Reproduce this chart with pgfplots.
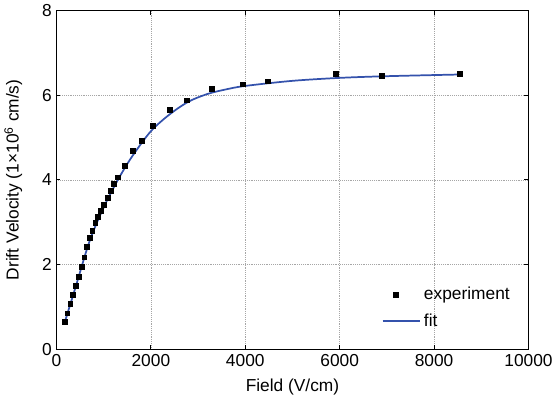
\documentclass[border=0pt]{standalone}
\usepackage{pgfplots}
\pgfplotsset{compat=1.18}
\usepackage{fontspec}
\setmainfont{Liberation Sans}
\definecolor{fitblue}{RGB}{52,82,172}
\pgfplotsset{
  mymarklegend/.style={legend image code/.code={\draw[##1] plot coordinates {(0.3cm,0cm)};}},
  mylinelegend/.style={legend image code/.code={\draw[##1] (-0.05cm,0cm) -- (0.95cm,0cm);}},
}
\begin{document}
\begin{tikzpicture}
\begin{axis}[
  scale only axis,
  width=354pt, height=254pt,
  xmin=0, xmax=10000, ymin=0, ymax=8,
  xtick={0,2000,4000,6000,8000,10000},
  ytick={0,2,4,6,8},
  /pgf/number format/assume math mode=true,
  /pgf/number format/1000 sep={},
  scaled x ticks=false,
  tick align=inside,
  tick pos=both,
  major tick length=3pt,
  grid=major,
  major grid style={gray!70, densely dotted, line width=0.5pt},
  axis line style={line width=0.8pt},
  tick style={black, line width=0.6pt},
  ticklabel style={font=\fontsize{13}{15}\selectfont},
  label style={font=\fontsize{13}{15}\selectfont},
  xlabel={Field (V/cm)},
  ylabel={Drift Velocity (1×10\textsuperscript{6} cm/s)},
  xlabel style={yshift=-3pt},
  ylabel style={yshift=8pt},
  legend style={draw=none, fill=none, at={(0.975,0.045)}, anchor=south east, font=\fontsize{13}{15}\selectfont, row sep=5pt},
  legend cell align=left,
]
\addplot[only marks, mark=square*, mark size=1.8pt, black, mymarklegend] coordinates {
(170,0.64) (230,0.85) (290,1.07) (350,1.28) (410,1.50) (470,1.72)
(530,1.95) (590,2.17) (650,2.42) (700,2.63) (760,2.80) (820,2.98)
(880,3.13) (940,3.28) (1000,3.42) (1080,3.58) (1150,3.74) (1220,3.90)
(1292,4.06) (1441,4.34) (1610,4.69) (1800,4.93) (2034,5.28) (2394,5.66)
(2754,5.88) (3284,6.15) (3941,6.26) (4470,6.33) (5911,6.51) (6886,6.46)
(8538,6.51)
};
\addlegendentry{experiment}
\addplot[fitblue, line width=1.3pt, smooth, mylinelegend] coordinates {
(170,0.62) (400,1.45) (700,2.55) (1000,3.35) (1300,4.00) (1600,4.55)
(2000,5.15) (2400,5.55) (2800,5.85) (3200,6.03) (3600,6.14) (4000,6.22)
(5000,6.34) (6000,6.41) (7000,6.45) (8550,6.49)
};
\addlegendentry{fit}
\end{axis}
\end{tikzpicture}
\end{document}
